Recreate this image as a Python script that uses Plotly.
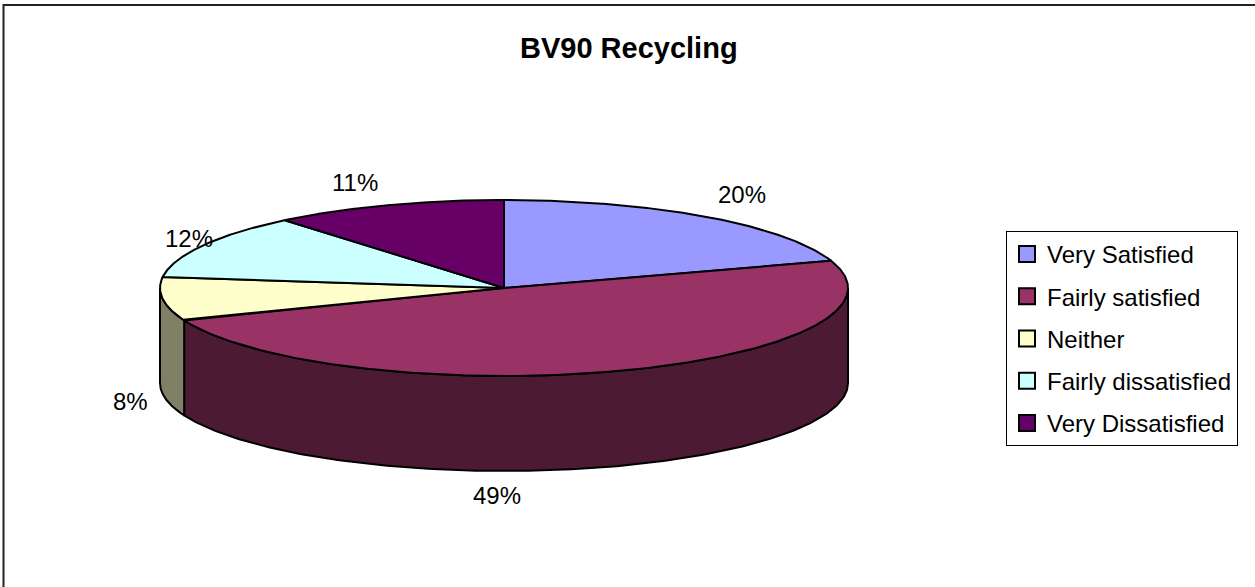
import numpy as np
import plotly.graph_objects as go

# ---- data ----
title = "BV90 Recycling"
categories = ["Very Satisfied", "Fairly satisfied", "Neither",
              "Fairly dissatisfied", "Very Dissatisfied"]
shares = [20, 49, 8, 12, 11]

# ---- style ----
top_colors = ["#9999FF", "#993366", "#FFFFCC", "#CCFFFF", "#660066"]
side_colors = ["#4D4D80", "#4D1A33", "#808066", "#668080", "#330033"]
FONT = "Liberation Sans, Arial, sans-serif"
W, H = 1255, 587

# pie geometry in canvas pixels (tilted disc)
CX, CY, RX, RY, DEPTH = 504, 288, 344, 88, 95
LABEL_GAP = 28
label_nudge = {0: (19, 0), 1: (-133, 3), 2: (-4, 4), 3: (11, 6), 4: (-23, 4)}


def rim(theta_deg, drop=0.0):
    t = np.radians(theta_deg)
    return CX + RX * np.sin(t), CY - RY * np.cos(t) + drop


total = float(sum(shares))
bounds = np.concatenate([[0.0], np.cumsum(shares) / total * 360.0])

fig = go.Figure()

# visible outer walls (front half of the disc, 90..270 degrees clockwise from top)
for i in range(len(shares)):
    lo, hi = max(bounds[i], 90.0), min(bounds[i + 1], 270.0)
    if hi <= lo:
        continue
    ts = np.linspace(lo, hi, 200)
    tx, ty = rim(ts)
    bx, by = rim(ts[::-1], DEPTH)
    fig.add_trace(go.Scatter(
        x=np.concatenate([tx, bx, tx[:1]]), y=np.concatenate([ty, by, ty[:1]]),
        mode="lines", fill="toself", fillcolor=side_colors[i],
        line=dict(color="black", width=2), hoverinfo="skip", showlegend=False))

# top faces of the slices
for i in range(len(shares)):
    ts = np.linspace(bounds[i], bounds[i + 1], 300)
    ax, ay = rim(ts)
    fig.add_trace(go.Scatter(
        x=np.concatenate([[CX], ax, [CX]]), y=np.concatenate([[CY], ay, [CY]]),
        mode="lines", fill="toself", fillcolor=top_colors[i],
        line=dict(color="black", width=2), hoverinfo="skip", showlegend=False))

# legend entries
for i, name in enumerate(categories):
    fig.add_trace(go.Scatter(
        x=[None], y=[None], mode="markers", name=name, legendgroup=name,
        marker=dict(symbol="square", size=16, color=top_colors[i],
                    line=dict(color="black", width=2))))

# percentage labels placed outside each slice at its mid-angle
annotations = []
for i, v in enumerate(shares):
    mid = (bounds[i] + bounds[i + 1]) / 2.0
    t = np.radians(mid)
    drop = DEPTH if np.cos(t) < 0 else 0.0
    lx = CX + (RX + LABEL_GAP) * np.sin(t)
    ly = CY - (RY + LABEL_GAP) * np.cos(t) + drop
    dx, dy = label_nudge[i]
    annotations.append(dict(
        x=lx + dx, y=ly + dy, xref="x", yref="y", text=f"{v}%", showarrow=False,
        font=dict(family=FONT, size=24, color="black"),
        xanchor="center", yanchor="middle"))

annotations.append(dict(
    x=629, y=48, xref="x", yref="y", text=f"<b>{title}</b>", showarrow=False,
    font=dict(family=FONT, size=29, color="black"),
    xanchor="center", yanchor="middle"))

fig.update_layout(
    width=W, height=H, margin=dict(l=0, r=0, t=0, b=0),
    paper_bgcolor="white", plot_bgcolor="white",
    xaxis=dict(range=[0, W], visible=False, fixedrange=True),
    yaxis=dict(range=[H, 0], visible=False, fixedrange=True),
    annotations=annotations,
    showlegend=True,
    legend=dict(
        x=1006 / W, y=1 - 231 / H, xanchor="left", yanchor="top",
        bordercolor="black", borderwidth=1, bgcolor="white",
        font=dict(family=FONT, size=24, color="black"),
        traceorder="grouped", tracegroupgap=8, itemwidth=30),
    shapes=[dict(type="rect", xref="paper", yref="paper",
                 x0=3.5 / W, y0=-0.05, x1=1.05, y1=1 - 5 / H,
                 line=dict(color="#222222", width=2), fillcolor="rgba(0,0,0,0)")],
)

fig.write_html("out.html")
